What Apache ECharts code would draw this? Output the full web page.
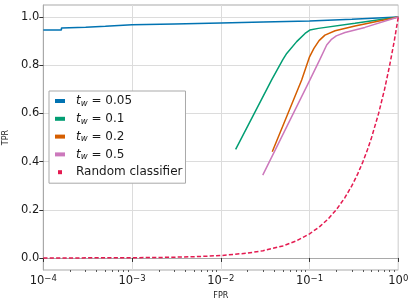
<!DOCTYPE html>
<html>
<head>
<meta charset="utf-8">
<script src="https://cdn.jsdelivr.net/npm/echarts@6/dist/echarts.min.js"></script>
<style>html,body{margin:0;padding:0;background:#fff}#c{width:415px;height:307px}</style>
</head>
<body>
<div id="c"></div>
<script>
// ---- data ----
const yTicks = [0, 0.2, 0.4, 0.6, 0.8, 1.0];
const xMinorTicks = [2e-4,3e-4,4e-4,5e-4,6e-4,7e-4,8e-4,9e-4,
  2e-3,3e-3,4e-3,5e-3,6e-3,7e-3,8e-3,9e-3,
  2e-2,3e-2,4e-2,5e-2,6e-2,7e-2,8e-2,9e-2,
  0.2,0.3,0.4,0.5,0.6,0.7,0.8,0.9];
const seriesNames = ['t_w = 0.05', 't_w = 0.1', 't_w = 0.2', 't_w = 0.5', 'Random classifier'];
const tw005 = [[1e-4,0.946],[1.6e-4,0.946],[1.6e-4,0.955],[3e-4,0.958],[5e-4,0.962],[1e-3,0.968],[3e-3,0.971],[1e-2,0.975],[3e-2,0.979],[0.1,0.984],[0.3,0.991],[1,1]];
const tw01 = [[0.0147,0.451],[0.0374,0.739],[0.0498,0.822],[0.0553,0.849],[0.0716,0.898],[0.089,0.932],[0.1006,0.946],[0.1256,0.953],[0.325,0.974],[1,1]];
const tw02 = [[0.038,0.441],[0.0815,0.739],[0.1,0.835],[0.112,0.87],[0.128,0.902],[0.149,0.925],[0.194,0.943],[0.325,0.963],[1,1]];
const tw05 = [[0.0297,0.344],[0.101,0.739],[0.13,0.822],[0.156,0.884],[0.175,0.906],[0.2,0.922],[0.251,0.936],[0.42,0.957],[1,1]];
const randomClf = [[1e-4,1e-4],[2e-4,2e-4],[5e-4,5e-4],[1e-3,1e-3],[2e-3,2e-3],[5e-3,5e-3],[0.01,0.01],[0.02,0.02],[0.03,0.03],[0.05,0.05],[0.07,0.07],[0.1,0.1],[0.13,0.13],[0.16,0.16],[0.2,0.2],[0.25,0.25],[0.3,0.3],[0.35,0.35],[0.4,0.4],[0.45,0.45],[0.5,0.5],[0.6,0.6],[0.7,0.7],[0.8,0.8],[0.9,0.9],[1,1]];
const colors = ['#0173b2', '#029e73', '#d55e00', '#cc78bc', '#e41a50'];

const FONT = 'DejaVu Sans';
const chart = echarts.init(document.getElementById('c'), null, {renderer: 'canvas'});

function lineSeries(name, data, color, dashed) {
  return {
    name: name, type: 'line', data: data, xAxisIndex: 0, yAxisIndex: 0,
    showSymbol: false, symbol: 'none', smooth: false, animation: false,
    itemStyle: {color: color},
    lineStyle: {color: color, width: 1.5, type: dashed ? [4.2, 2.2] : 'solid'},
    z: 3
  };
}

const option = {
  animation: false,
  textStyle: {fontFamily: FONT},
  grid: {left: 43.3, right: 16.7, top: 5, bottom: 37, show: true, borderColor: '#a9a9a9', borderWidth: 1,
         containLabel: false, outerBoundsMode: 'none'},
  legend: {
    left: 49, top: 91, orient: 'vertical',
    backgroundColor: '#ffffff', borderColor: '#a9a9a9', borderWidth: 1, borderRadius: 0,
    padding: [3, 3, 4, 6], itemGap: 3.8, itemWidth: 10, itemHeight: 4,
    data: seriesNames.map((n, i) => ({
      name: n,
      icon: i < 4 ? 'rect' : 'path://M0,0h4v4h-4z',
      itemStyle: {color: colors[i], borderWidth: 0},
      lineStyle: {width: 0}
    })),
    formatter: function (name) {
      if (name.indexOf('t_w') === 0) {
        return '{i|t}{s|w}{n|' + name.slice(3) + '}';
      }
      return '{r|' + name + '}';
    },
    textStyle: {
      fontFamily: FONT, fontSize: 12, color: '#1a1a1a', lineHeight: 14,
      rich: {
        i: {fontFamily: FONT, fontSize: 12, fontStyle: 'italic', lineHeight: 14, color: '#1a1a1a', padding: [0, 0, 0, 6]},
        s: {fontFamily: FONT, fontSize: 8.5, fontStyle: 'italic', lineHeight: 8, verticalAlign: 'bottom', color: '#1a1a1a'},
        n: {fontFamily: FONT, fontSize: 12, lineHeight: 14, color: '#1a1a1a'},
        r: {fontFamily: FONT, fontSize: 12, lineHeight: 14, color: '#1a1a1a', padding: [0, 0, 0, 6]}
      }
    }
  },
  xAxis: [{
    type: 'log', logBase: 10, min: 1e-4, max: 1, position: 'bottom',
    name: 'FPR', nameLocation: 'middle', nameGap: 22,
    nameTextStyle: {fontFamily: FONT, fontSize: 8, color: '#1a1a1a'},
    axisLine: {show: true, lineStyle: {color: '#a9a9a9', width: 1}},
    axisTick: {show: true, inside: false, length: 4, lineStyle: {color: '#333', width: 1}},
    splitLine: {show: true, lineStyle: {color: '#dcdcdc', width: 1}},
    minorTick: {show: false}, minorSplitLine: {show: false},
    axisLabel: {
      show: true, margin: 4, color: '#1a1a1a', fontFamily: FONT, fontSize: 11.5,
      formatter: function (v) {
        const e = Math.round(Math.log10(v));
        return '{b|10}{p|' + (e < 0 ? '\u2212' + (-e) : e) + '}';
      },
      rich: {
        b: {fontFamily: FONT, fontSize: 11.5, lineHeight: 15, color: '#1a1a1a'},
        p: {fontFamily: FONT, fontSize: 8.5, lineHeight: 9, verticalAlign: 'top', color: '#1a1a1a'}
      }
    }
  }, {
    type: 'log', logBase: 10, min: 1e-4, max: 1, position: 'bottom',
    axisLine: {show: false},
    axisTick: {show: true, inside: false, length: 2, customValues: xMinorTicks, lineStyle: {color: '#333', width: 0.8}},
    axisLabel: {show: false},
    splitLine: {show: false}
  }],
  yAxis: [{
    type: 'value', min: -0.05, max: 1.05,
    name: 'TPR', nameLocation: 'middle', nameGap: 30, nameRotate: 90,
    nameTextStyle: {fontFamily: FONT, fontSize: 8, color: '#1a1a1a'},
    axisLine: {show: true, lineStyle: {color: '#a9a9a9', width: 1}},
    axisTick: {show: true, inside: false, length: 4, customValues: yTicks, lineStyle: {color: '#333', width: 1}},
    splitLine: {show: true, lineStyle: {color: '#dcdcdc', width: 1}},
    axisLabel: {
      show: true, margin: 4, customValues: yTicks, color: '#1a1a1a', fontFamily: FONT, fontSize: 11.5,
      formatter: function (v) { return v.toFixed(1); }
    }
  }],
  series: [
    lineSeries(seriesNames[0], tw005, colors[0], false),
    lineSeries(seriesNames[1], tw01, colors[1], false),
    lineSeries(seriesNames[2], tw02, colors[2], false),
    lineSeries(seriesNames[3], tw05, colors[3], false),
    lineSeries(seriesNames[4], randomClf, colors[4], true)
  ]
};
chart.setOption(option);
</script>
</body>
</html>
